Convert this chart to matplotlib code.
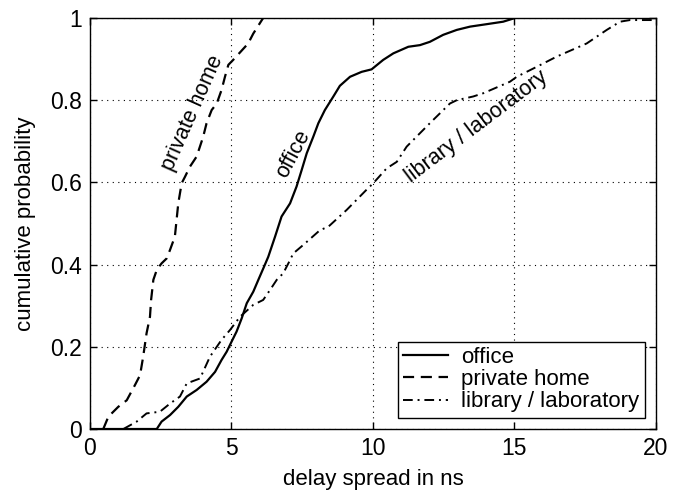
import numpy as np
import matplotlib.pyplot as plt

plt.rcParams['font.family'] = ['Liberation Sans', 'DejaVu Sans']

# empirical CDFs of the rms delay spread (ns)
office_x = [0.0, 2.36, 2.53, 2.83, 3.12, 3.42, 3.77, 4.12, 4.42, 4.65, 4.83, 5.0, 5.18, 5.36,
            5.54, 5.77, 5.95, 6.12, 6.30, 6.54, 6.77, 7.07, 7.30, 7.48, 7.66, 7.89, 8.07,
            8.30, 8.60, 8.83, 9.19, 9.60, 9.95, 10.36, 10.72, 11.25, 11.66, 12.01, 12.48,
            12.96, 13.43, 14.02, 14.60, 15.02]
office_p = [0.0, 0.0, 0.018, 0.034, 0.054, 0.079, 0.095, 0.115, 0.139, 0.168, 0.188, 0.212,
            0.237, 0.269, 0.306, 0.334, 0.363, 0.39, 0.419, 0.468, 0.517, 0.549, 0.590,
            0.630, 0.671, 0.711, 0.744, 0.776, 0.809, 0.835, 0.857, 0.869, 0.875, 0.898,
            0.914, 0.930, 0.934, 0.942, 0.959, 0.971, 0.979, 0.985, 0.991, 1.0]

home_x = [0.47, 0.65, 1.0, 1.30, 1.59, 1.77, 1.88, 2.0, 2.12, 2.16, 2.24, 2.36, 2.53, 2.71,
          2.83, 3.0, 3.12, 3.24, 3.36, 3.53, 3.77, 4.0, 4.12, 4.30, 4.48, 4.65, 4.77, 4.89,
          5.06, 5.59, 5.77, 6.0, 6.12]
home_p = [0.0, 0.03, 0.054, 0.07, 0.107, 0.131, 0.176, 0.233, 0.273, 0.314, 0.363, 0.387,
          0.403, 0.415, 0.436, 0.468, 0.549, 0.598, 0.614, 0.638, 0.663, 0.711, 0.744,
          0.776, 0.792, 0.825, 0.857, 0.886, 0.898, 0.938, 0.962, 0.987, 1.0]

lib_x = [1.18, 1.65, 2.0, 2.47, 2.83, 3.18, 3.42, 3.89, 4.24, 4.65, 4.95, 5.30, 5.77, 6.12,
         6.36, 6.60, 6.83, 7.07, 7.18, 7.54, 8.13, 8.42, 9.07, 9.77, 10.01, 10.48, 10.84,
         11.19, 11.42, 12.01, 12.72, 12.96, 13.54, 13.9, 14.84, 15.08, 15.78, 16.49, 17.55,
         18.26, 18.73, 19.08, 19.9, 20.0]
lib_p = [0.0, 0.018, 0.038, 0.042, 0.062, 0.079, 0.111, 0.123, 0.176, 0.217, 0.241, 0.273,
         0.302, 0.314, 0.338, 0.363, 0.379, 0.411, 0.427, 0.448, 0.484, 0.492, 0.533, 0.582,
         0.598, 0.634, 0.650, 0.687, 0.703, 0.744, 0.792, 0.80, 0.809, 0.817, 0.845, 0.857,
         0.881, 0.906, 0.938, 0.971, 0.991, 0.995, 0.995, 1.0]

fig = plt.figure(figsize=(6.79, 4.93), dpi=100)
ax = fig.add_axes([0.1325, 0.1298, 0.8336, 0.8337])

ax.plot(office_x, office_p, color='black', lw=1.6, ls='-', label='office')
ax.plot(home_x, home_p, color='black', lw=1.6, ls=(0, (5, 3)), label='private home')
ax.plot(lib_x, lib_p, color='black', lw=1.4, ls=(0, (5, 2.5, 1, 2.5)), label='library / laboratory')

ax.set_xlim(0, 20)
ax.set_ylim(0, 1)
ax.set_xticks([0, 5, 10, 15, 20])
ax.set_yticks([0, 0.2, 0.4, 0.6, 0.8, 1])
ax.set_yticklabels(['0', '0.2', '0.4', '0.6', '0.8', '1'])
ax.tick_params(direction='in', top=True, right=True, labelsize=16.5, length=5, width=1, pad=6)
ax.grid(True, color='black', ls=(0, (1, 4)), lw=0.8)
for s in ax.spines.values():
    s.set_linewidth(1)

ax.set_xlabel('delay spread in ns', fontsize=16, labelpad=6)
ax.set_ylabel('cumulative probability', fontsize=16, labelpad=10)

# labels written along the curves
ax.text(3.64, 0.769, 'private home', rotation=66, fontsize=15.5, ha='center', va='center')
ax.text(7.18, 0.669, 'office', rotation=62, fontsize=15.5, ha='center', va='center')
ax.text(13.66, 0.736, 'library / laboratory', rotation=37, fontsize=15.5, ha='center', va='center')

leg = ax.legend(loc='lower right', fontsize=16, frameon=True, fancybox=False,
                edgecolor='black', framealpha=1, borderaxespad=0.5, handlelength=2.0,
                borderpad=0.25, labelspacing=0.05, handletextpad=0.6)
leg.get_frame().set_linewidth(1)

fig.savefig('out.png', dpi=100)
